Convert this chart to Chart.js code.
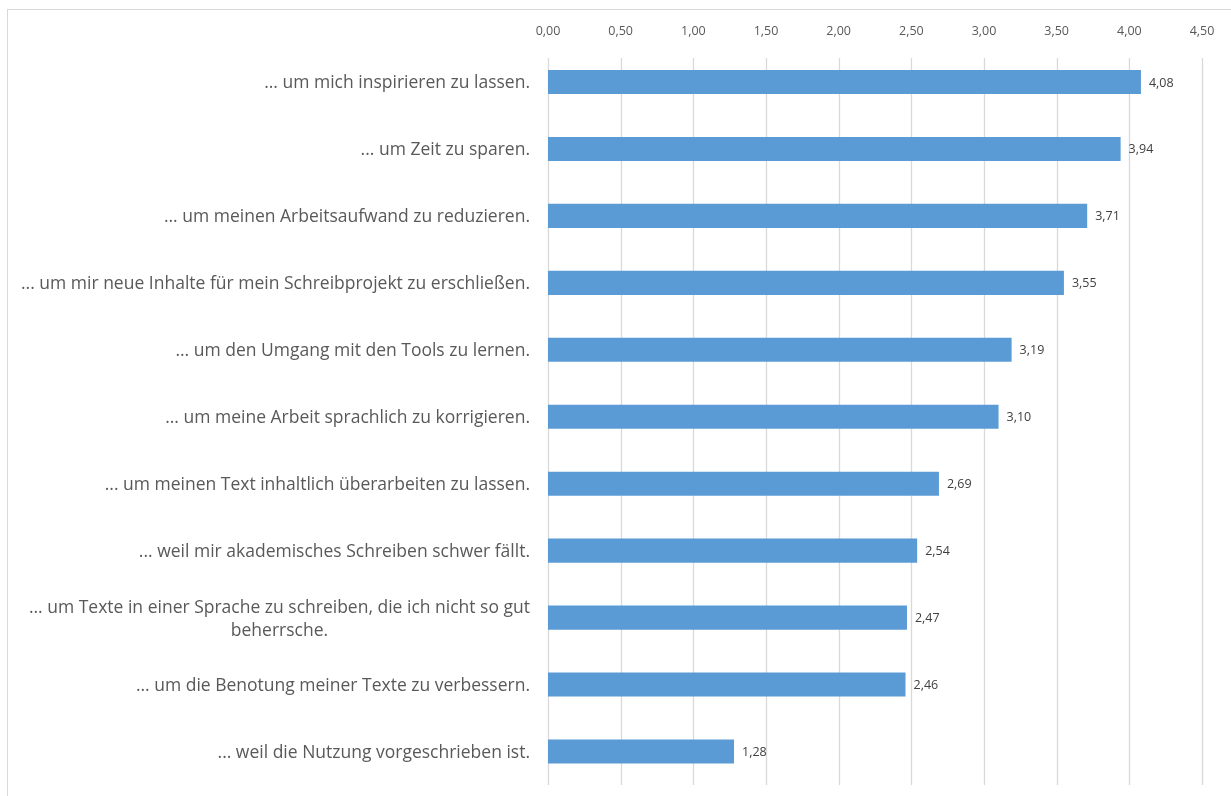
<!DOCTYPE html>
<html>
<head>
<meta charset="utf-8">
<script src="https://cdn.jsdelivr.net/npm/chart.js@4"></script>
<style>
    body { margin: 0; background: #fff; overflow: hidden; }
    #frame {
        position: absolute; left: 7px; top: 9px; width: 1240px; height: 800px;
        border-left: 1px solid #d9d9d9; border-top: 1px solid #d9d9d9;
    }
    #wrap { position: absolute; left: 0; top: 0; width: 1231px; height: 796px; }
</style>
</head>
<body>
<div id="frame"></div>
<div id="wrap"><canvas id="barChart"></canvas></div>
<script>
const categories = [
    ['... um mich inspirieren zu lassen.'],
    ['... um Zeit zu sparen.'],
    ['... um meinen Arbeitsaufwand zu reduzieren.'],
    ['... um mir neue Inhalte für mein Schreibprojekt zu erschließen.'],
    ['... um den Umgang mit den Tools zu lernen.'],
    ['... um meine Arbeit sprachlich zu korrigieren.'],
    ['... um meinen Text inhaltlich überarbeiten zu lassen.'],
    ['... weil mir akademisches Schreiben schwer fällt.'],
    ['... um Texte in einer Sprache zu schreiben, die ich nicht so gut', 'beherrsche.'],
    ['... um die Benotung meiner Texte zu verbessern.'],
    ['... weil die Nutzung vorgeschrieben ist.']
];
const values = [4.08, 3.94, 3.71, 3.55, 3.19, 3.10, 2.69, 2.54, 2.47, 2.46, 1.28];
const tickValues = [0, 0.5, 1, 1.5, 2, 2.5, 3, 3.5, 4, 4.5];

const FONT = '"Open Sans", "Liberation Sans", sans-serif';

function fmt(v) {
    return v.toFixed(2).replace('.', ',');
}

// gridlines start a bit below the axis labels, like in Excel
const gridLines = {
    id: 'gridLines',
    beforeDatasetsDraw(chart) {
        const ctx = chart.ctx;
        const x = chart.scales.x;
        ctx.save();
        ctx.strokeStyle = '#d9d9d9';
        ctx.lineWidth = 1.3;
        tickValues.forEach(v => {
            const px = Math.round(x.getPixelForValue(v)) + 0.5;
            ctx.beginPath();
            ctx.moveTo(px, 58);
            ctx.lineTo(px, chart.chartArea.bottom);
            ctx.stroke();
        });
        ctx.restore();
    }
};

// category labels: right aligned, wrapped lines centered on the first line
const catLabels = {
    id: 'catLabels',
    afterDraw(chart) {
        const ctx = chart.ctx;
        const y = chart.scales.y;
        const right = 530;
        const lineH = 23;
        ctx.save();
        ctx.font = '17.5px ' + FONT;
        ctx.fillStyle = '#595959';
        ctx.textBaseline = 'middle';
        categories.forEach((lines, i) => {
            const cy = y.getPixelForValue(i) + 1.5;
            const top = cy - (lines.length - 1) * lineH / 2;
            const w0 = ctx.measureText(lines[0]).width;
            const center = right - w0 / 2;
            lines.forEach((line, j) => {
                if (j === 0) {
                    ctx.textAlign = 'right';
                    ctx.fillText(line, right, top);
                } else {
                    ctx.textAlign = 'center';
                    ctx.fillText(line, center, top + j * lineH);
                }
            });
        });
        ctx.restore();
    }
};

const valueLabels = {
    id: 'valueLabels',
    afterDatasetsDraw(chart) {
        const ctx = chart.ctx;
        const meta = chart.getDatasetMeta(0);
        ctx.save();
        ctx.font = '12.5px ' + FONT;
        ctx.fillStyle = '#404040';
        ctx.textAlign = 'left';
        ctx.textBaseline = 'middle';
        meta.data.forEach((bar, i) => {
            ctx.fillText(fmt(values[i]), bar.x + 8, bar.y + 1);
        });
        ctx.restore();
    }
};

const ctx = document.getElementById('barChart');

new Chart(ctx, {
    type: 'bar',
    data: {
        labels: categories.map(c => c.join(' ')),
        datasets: [{
            data: values,
            backgroundColor: '#5b9bd5',
            borderWidth: 0,
            categoryPercentage: 1,
            barPercentage: 0.36
        }]
    },
    options: {
        indexAxis: 'y',
        responsive: true,
        maintainAspectRatio: false,
        animation: false,
        layout: { padding: { left: 0, right: 29, top: 0, bottom: 11 } },
        plugins: {
            legend: { display: false },
            tooltip: { enabled: false }
        },
        scales: {
            x: {
                position: 'top',
                min: 0,
                max: 4.5,
                afterBuildTicks(scale) {
                    scale.ticks = tickValues.map(v => ({ value: v }));
                },
                afterFit(scale) {
                    scale.height = 48.5;
                },
                ticks: {
                    padding: 2,
                    color: '#595959',
                    font: { family: FONT, size: 12.5 },
                    callback: v => fmt(v)
                },
                grid: { display: false },
                border: { display: false }
            },
            y: {
                afterFit(scale) {
                    scale.width = 548;
                },
                ticks: { display: false },
                grid: { display: false },
                border: { display: false }
            }
        }
    },
    plugins: [gridLines, catLabels, valueLabels]
});
</script>
</body>
</html>
